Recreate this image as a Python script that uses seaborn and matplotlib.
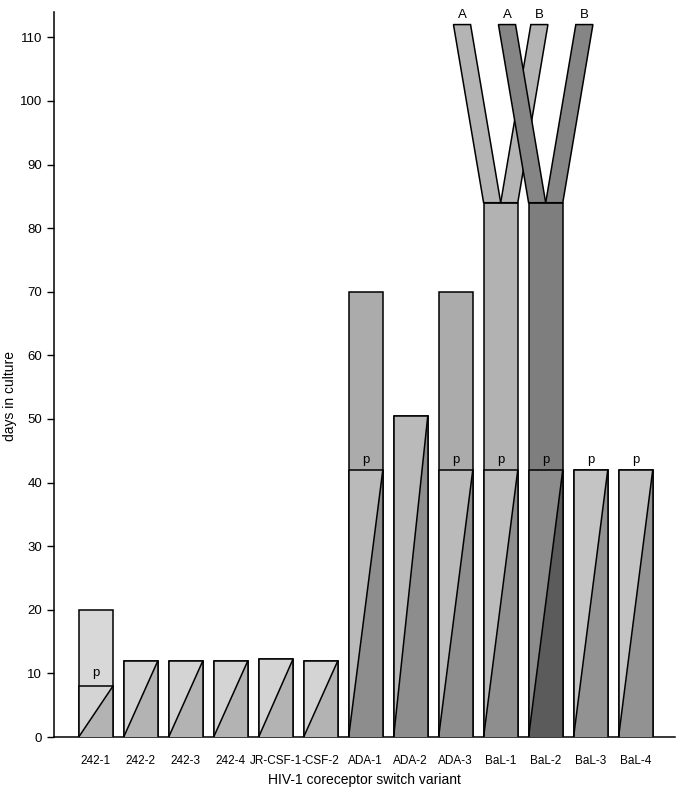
import matplotlib.pyplot as plt
import numpy as np
import pandas as pd
import seaborn as sns

VARIANTS = [
    "242-1", "242-2", "242-3", "242-4", "JR-CSF-1", "-CSF-2",
    "ADA-1", "ADA-2", "ADA-3", "BaL-1", "BaL-2", "BaL-3", "BaL-4",
]
TOTAL_DAYS = [20, 12, 12, 12, 12.2, 12, 70, 50.5, 70, 84, 84, 42, 42]
P_DAYS = [8, np.nan, np.nan, np.nan, np.nan, np.nan,
          42, np.nan, 42, 42, 42, 42, 42]

UPPER_COLORS = ["#d8d8d8"] * 6 + ["#ababab", "#ababab", "#ababab",
                                  "#b2b2b2", "#7e7e7e", "#c0c0c0", "#c0c0c0"]
LIGHT_COLORS = ["#d4d4d4"] * 6 + ["#bababa", "#bababa", "#bababa",
                                  "#bcbcbc", "#8c8c8c", "#c4c4c4", "#c4c4c4"]
DARK_COLORS = ["#b3b3b3"] * 6 + ["#8d8d8d", "#8d8d8d", "#8d8d8d",
                                 "#8e8e8e", "#5b5b5b", "#929292", "#929292"]

FORK_VARIANTS = ["BaL-1", "BaL-2"]
FORK_TOP = 112
FORK_LABELS = [("A", "B"), ("A", "B")]
FORK_COLORS = ["#b4b4b4", "#858585"]
FORK_SPREAD = 0.67

sns.set_theme(style="ticks")
plt.rcParams["font.family"] = ["Liberation Sans", "DejaVu Sans"]
plt.rcParams["text.color"] = "black"
plt.rcParams["axes.labelcolor"] = "black"

df = pd.DataFrame({"variant": VARIANTS, "total": TOTAL_DAYS, "p": P_DAYS})
df["diag_top"] = df.p.fillna(df.total)

fig = plt.figure(figsize=(6.83, 7.90), dpi=100)
ax = fig.add_axes([0.079, 0.067, 0.909, 0.918])

sns.barplot(
    data=df, x="variant", y="total", hue="variant", palette=UPPER_COLORS,
    saturation=1, width=0.76, edgecolor="black", linewidth=1.1,
    legend=False, ax=ax,
)
bars = sorted(ax.patches, key=lambda b: b.get_x())

# lower segment: split diagonally into a light and a dark triangle
for bar, row, light, dark in zip(bars, df.itertuples(), LIGHT_COLORS, DARK_COLORS):
    x0 = bar.get_x()
    x1 = x0 + bar.get_width()
    h = row.diag_top
    ax.fill([x0, x0, x1], [0, h, h], color=light, lw=0, zorder=3)
    ax.fill([x0, x1, x1], [0, 0, h], color=dark, lw=0, zorder=3)
    ax.plot([x0, x1], [0, h], color="black", lw=1.1, zorder=4)
    ax.plot([x0, x0, x1, x1], [0, h, h, 0], color="black", lw=1.1, zorder=4)
    if not np.isnan(row.p):
        off = 1.2 if row.p < 20 else 0.6
        ax.text((x0 + x1) / 2, row.p + off, "p", ha="center", va="bottom",
                fontsize=9.5, color="black", zorder=5)

# forks on top of BaL-1 and BaL-2
for name, labels, color in zip(FORK_VARIANTS, FORK_LABELS, FORK_COLORS):
    i = VARIANTS.index(name)
    bar = bars[i]
    x0 = bar.get_x()
    x1 = x0 + bar.get_width()
    mid = (x0 + x1) / 2
    h = TOTAL_DAYS[i]
    s = FORK_SPREAD
    ax.fill([x0, mid, mid - s, x0 - s], [h, h, FORK_TOP, FORK_TOP],
            facecolor=color, edgecolor="black", lw=1.1, zorder=3 + i * 0.01)
    ax.fill([mid, x1, x1 + s, mid + s], [h, h, FORK_TOP, FORK_TOP],
            facecolor=color, edgecolor="black", lw=1.1, zorder=3 + i * 0.01)
    ax.text((x0 + mid) / 2 - s, FORK_TOP + 0.5, labels[0], ha="center",
            va="bottom", fontsize=9.5, color="black")
    ax.text((mid + x1) / 2 + s, FORK_TOP + 0.5, labels[1], ha="center",
            va="bottom", fontsize=9.5, color="black")

ax.set_xlim(-0.93, 12.87)
ax.set_ylim(0, 114)
ax.set_yticks(range(0, 111, 10))
sns.despine(ax=ax)
for sp in ax.spines.values():
    sp.set_linewidth(1.1)
    sp.set_color("black")
ax.tick_params(axis="y", length=5, width=1, labelsize=9.5, colors="black")
ax.tick_params(axis="x", length=0, pad=13, labelsize=8.5, colors="black")
ax.set_xlabel("HIV-1 coreceptor switch variant", fontsize=10, labelpad=4)
ax.set_ylabel("days in culture", fontsize=10)
ax.yaxis.set_label_coords(-0.06, 0.47)

fig.savefig("out.png", dpi=100, facecolor="white")
